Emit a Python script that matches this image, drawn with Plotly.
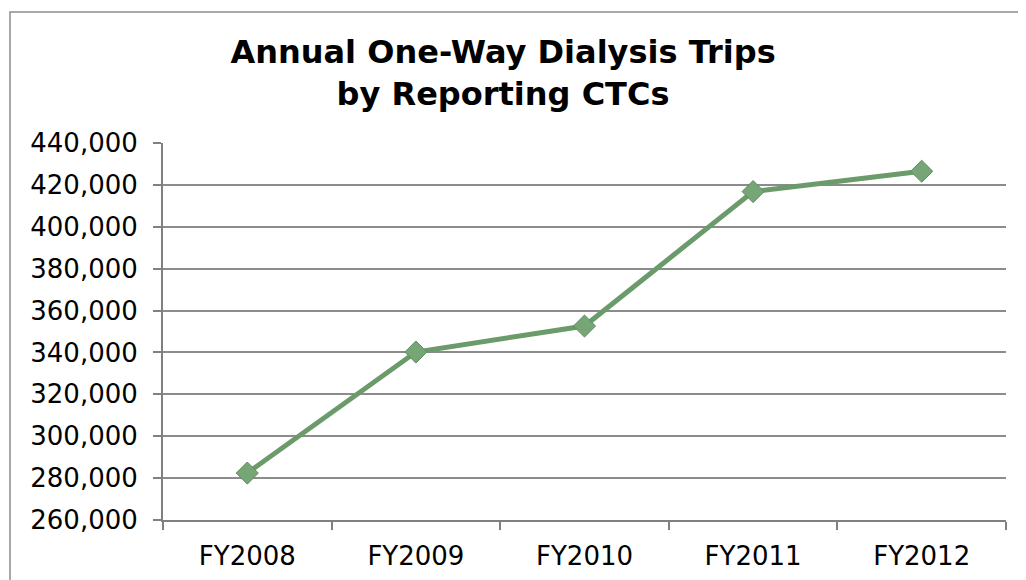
import plotly.graph_objects as go

# values
years = ['FY2008', 'FY2009', 'FY2010', 'FY2011', 'FY2012']
trips = [282400, 340200, 352600, 416800, 426500]
y_ticks = list(range(260000, 440001, 20000))

fig = go.Figure()

fig.add_trace(go.Scatter(
    x = years, y = trips,
    mode = 'lines+markers',
    line = dict(color='#6b9b6b', width=5),
    marker = dict(symbol='diamond', size=17, color='#76a676',
                  line=dict(color='#5e8c5e', width=1)),
    showlegend = False
))

# outer chart border
fig.add_shape(
    type = 'rect', xref = 'paper', yref = 'paper',
    x0 = -0.1815, x1 = 1.05, y0 = -0.2, y1 = 1.3475,
    line = dict(color='#8c8c8c', width=1.5)
)

fig.update_layout(
    width = 1026, height = 580,
    plot_bgcolor = 'white', paper_bgcolor = 'white',
    font = dict(family='Verdana, DejaVu Sans', color='black', size=26),
    margin = dict(l=155, r=28, t=135, b=68),
    title = dict(
        text = '<b>Annual One-Way Dialysis Trips<br>by Reporting CTCs</b>',
        font = dict(size=32, family='Verdana, DejaVu Sans', color='black'),
        x = 0.4825, xref = 'container', xanchor = 'center',
        y = 0.905, yref = 'container', yanchor = 'top'
    ),
    xaxis = dict(
        automargin = False, range = [-0.5, 4.5],
        showgrid = False, showline = True, linecolor = '#808080', linewidth = 2,
        ticks = 'outside', ticklen = 8, tickcolor = '#808080', tickwidth = 2,
        tickson = 'boundaries', ticklabelstandoff = 12
    ),
    yaxis = dict(
        automargin = False,
        range = [260000, 440000], tickvals = y_ticks,
        tickformat = ',d', ticklabelstandoff = 10,
        showgrid = True, gridcolor = '#8c8c8c', gridwidth = 2,
        showline = True, linecolor = '#808080', linewidth = 2,
        ticks = 'outside', ticklen = 8, tickcolor = '#808080', tickwidth = 2,
        zeroline = False
    )
)

fig.write_html("out.html")
